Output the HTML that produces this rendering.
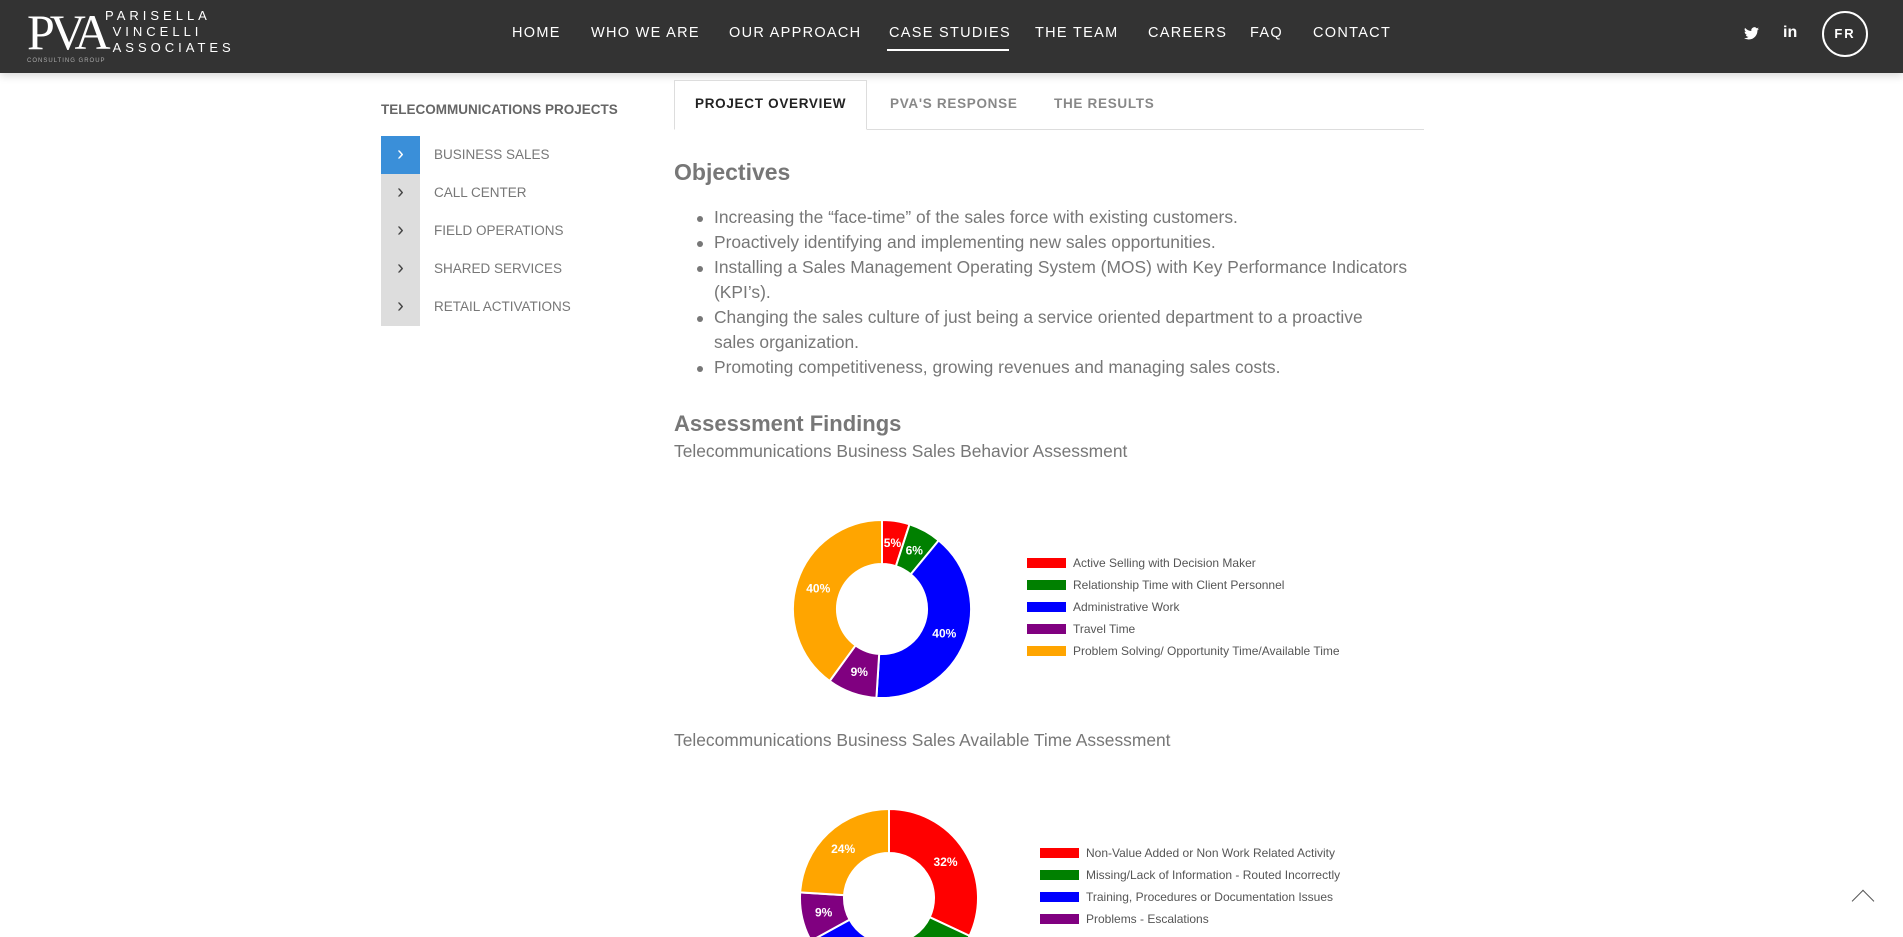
<!DOCTYPE html>
<html><head><meta charset="utf-8"><style>
*{box-sizing:border-box;margin:0;padding:0}
body{width:1903px;height:937px;overflow:hidden;background:#fff;font-family:"Liberation Sans",sans-serif;position:relative;color:#777}
.abs{position:absolute}
#hdr{left:0;top:0;width:1903px;height:73px;background:#333;box-shadow:0 3px 8px rgba(0,0,0,.15)}
.nav{position:absolute;top:25px;color:#fff;font-size:14.5px;letter-spacing:1.3px;white-space:nowrap}
.side-item{position:absolute;left:381px;width:300px;height:38px}
.side-item .box{position:absolute;left:0;top:0;width:39px;height:38px;background:#ddd;color:#444;text-align:center;line-height:36px;font-size:20px}
.side-item .t{position:absolute;left:53px;top:11px;font-size:13.5px;color:#777}
.bul{position:absolute;left:714px;font-size:17.4px;color:#777;white-space:nowrap}
.bul:before{content:"";position:absolute;left:-17px;top:9px;width:6px;height:6px;border-radius:50%;background:#777}
.tab{position:absolute;top:96px;font-size:13.5px;font-weight:bold;letter-spacing:0.7px;color:#888}
</style></head><body>
<div id="hdr" class="abs">
  <div class="abs" style="left:27px;top:6px;width:200px;height:60px;color:#fff">
    <div class="abs" style="left:0;top:0;font-family:'Liberation Serif',serif;font-size:50px;letter-spacing:-5px;line-height:52px;font-weight:100">PVA</div>
    <div class="abs" style="left:78px;top:2px;font-size:13px;letter-spacing:4px;line-height:16px">PARISELLA<br>&nbsp;VINCELLI<br>&nbsp;ASSOCIATES</div>
    <div class="abs" style="left:0;top:52px;font-size:6px;letter-spacing:1px;color:#aaa">CONSULTING GROUP</div>
  </div>
  <div class="nav" style="left:512px">HOME</div>
  <div class="nav" style="left:591px">WHO WE ARE</div>
  <div class="nav" style="left:729px">OUR APPROACH</div>
  <div class="nav" style="left:889px">CASE STUDIES</div>
  <div class="abs" style="left:887px;top:49px;width:122px;height:2px;background:#fff"></div>
  <div class="nav" style="left:1035px">THE TEAM</div>
  <div class="nav" style="left:1148px">CAREERS</div>
  <div class="nav" style="left:1250px">FAQ</div>
  <div class="nav" style="left:1313px">CONTACT</div>
  <svg class="abs" style="left:1744px;top:27px" width="15" height="13" viewBox="0 0 24 20"><path fill="#fff" d="M24 2.4a10 10 0 0 1-2.8.8A5 5 0 0 0 23.3.4a10 10 0 0 1-3.1 1.2A4.9 4.9 0 0 0 11.8 6 14 14 0 0 1 1.7.9a4.9 4.9 0 0 0 1.5 6.6A4.9 4.9 0 0 1 1 6.9a4.9 4.9 0 0 0 3.9 4.9 5 5 0 0 1-2.2.1 4.9 4.9 0 0 0 4.6 3.4A9.9 9.9 0 0 1 0 17.3 14 14 0 0 0 7.5 19.5c9 0 14-7.5 14-14v-.6A10 10 0 0 0 24 2.4z"/></svg>
  <div class="abs" style="left:1783px;top:24px;color:#fff;font-weight:bold;font-size:16px">in</div>
  <div class="abs" style="left:1822px;top:11px;width:46px;height:46px;border:2px solid #fff;border-radius:50%;color:#fff;font-weight:bold;font-size:13px;letter-spacing:2px;text-align:center;line-height:42px">FR</div>
</div>

<div class="abs" style="left:381px;top:102px;font-size:13.5px;font-weight:bold;color:#666">TELECOMMUNICATIONS PROJECTS</div>
<div class="side-item" style="top:136px"><div class="box" style="background:#3a8fd9;color:#fff">›</div><div class="t">BUSINESS SALES</div></div>
<div class="side-item" style="top:174px"><div class="box">›</div><div class="t">CALL CENTER</div></div>
<div class="side-item" style="top:212px"><div class="box">›</div><div class="t">FIELD OPERATIONS</div></div>
<div class="side-item" style="top:250px"><div class="box">›</div><div class="t">SHARED SERVICES</div></div>
<div class="side-item" style="top:288px"><div class="box">›</div><div class="t">RETAIL ACTIVATIONS</div></div>

<div class="abs" style="left:674px;top:129px;width:750px;height:1px;background:#ddd"></div>
<div class="abs" style="left:674px;top:80px;width:193px;height:50px;border:1px solid #ddd;border-bottom:1px solid #fff;background:#fff"></div>
<div class="tab" style="left:695px;color:#222">PROJECT OVERVIEW</div>
<div class="tab" style="left:890px">PVA'S RESPONSE</div>
<div class="tab" style="left:1054px">THE RESULTS</div>

<div class="abs" style="left:674px;top:159px;font-size:23px;font-weight:bold;color:#777">Objectives</div>
<div class="bul" style="top:207px">Increasing the “face-time” of the sales force with existing customers.</div>
<div class="bul" style="top:232px">Proactively identifying and implementing new sales opportunities.</div>
<div class="bul" style="top:257px">Installing a Sales Management Operating System (MOS) with Key Performance Indicators</div>
<div class="abs" style="left:714px;top:282px;font-size:17.4px">(KPI’s).</div>
<div class="bul" style="top:307px">Changing the sales culture of just being a service oriented department to a proactive</div>
<div class="abs" style="left:714px;top:332px;font-size:17.4px">sales organization.</div>
<div class="bul" style="top:357px">Promoting competitiveness, growing revenues and managing sales costs.</div>

<div class="abs" style="left:674px;top:411px;font-size:22px;font-weight:bold;color:#777">Assessment Findings</div>
<div class="abs" style="left:674px;top:441px;font-size:17.4px">Telecommunications Business Sales Behavior Assessment</div>
<div class="abs" style="left:674px;top:730px;font-size:17.4px">Telecommunications Business Sales Available Time Assessment</div>

<svg id="charts" class="abs" style="left:0;top:0" width="1903" height="937"></svg>

<div class="abs" style="left:1855px;top:893px;width:16px;height:16px;border-left:1.5px solid #555;border-top:1.5px solid #555;transform:rotate(45deg)"></div>

<script>
const c1Labels=["Active Selling with Decision Maker","Relationship Time with Client Personnel","Administrative Work","Travel Time","Problem Solving/ Opportunity Time/Available Time"];
const c1Values=[5,6,40,9,40];
const c1Colors=["#ff0000","#008000","#0000ff","#800080","#ffa500"];
const c2Labels=["Non-Value Added or Non Work Related Activity","Missing/Lack of Information - Routed Incorrectly","Training, Procedures or Documentation Issues","Problems - Escalations"];
const c2Values=[32,17,18,9,24];
const c2Colors=["#ff0000","#008000","#0000ff","#800080","#ffa500"];
const NS="http://www.w3.org/2000/svg";
const svg=document.getElementById('charts');
function mk(t,a){const e=document.createElementNS(NS,t);for(const k in a)e.setAttribute(k,a[k]);svg.appendChild(e);return e;}
function donut(cx,cy,R,r,vals,cols,labels,lx,ly,id){
  const tot=vals.reduce((a,b)=>a+b,0);let a0=-Math.PI/2;
  vals.forEach((v,i)=>{
    const a1=a0+v/tot*2*Math.PI;const lg=(a1-a0)>Math.PI?1:0;
    const p=(rad,a)=>[cx+rad*Math.cos(a),cy+rad*Math.sin(a)];
    const [x0,y0]=p(R,a0),[x1,y1]=p(R,a1),[x2,y2]=p(r,a1),[x3,y3]=p(r,a0);
    const path=mk('path',{d:`M${x0} ${y0}A${R} ${R} 0 ${lg} 1 ${x1} ${y1}L${x2} ${y2}A${r} ${r} 0 ${lg} 0 ${x3} ${y3}Z`,fill:cols[i],stroke:'#fff','stroke-width':2});
    
    
    const am=(a0+a1)/2;const [tx,ty]=p((R+r)/2,am);
    const t=mk('text',{x:tx,y:ty+4,'text-anchor':'middle',fill:'#fff','font-size':12,'font-weight':'bold','font-family':'Liberation Sans, sans-serif'});
    t.textContent=Math.round(v/tot*100)+'%';
    
    
    a0=a1;
  });
  labels.forEach((l,i)=>{
    const y=ly+i*22;
    const s=mk('rect',{x:lx,y:y-5,width:39,height:10,fill:cols[i]});
    
    
    const t=mk('text',{x:lx+46,y:y+4,fill:'#555','font-size':12,'font-family':'Liberation Sans, sans-serif'});
    t.textContent=l;
    
    
  });
}
donut(882,609,89,45,c1Values,c1Colors,c1Labels,1027,563,'chart1');
donut(889,898,89,45,c2Values,c2Colors,c2Labels,1040,853,'chart2');
</script>
</body></html>
